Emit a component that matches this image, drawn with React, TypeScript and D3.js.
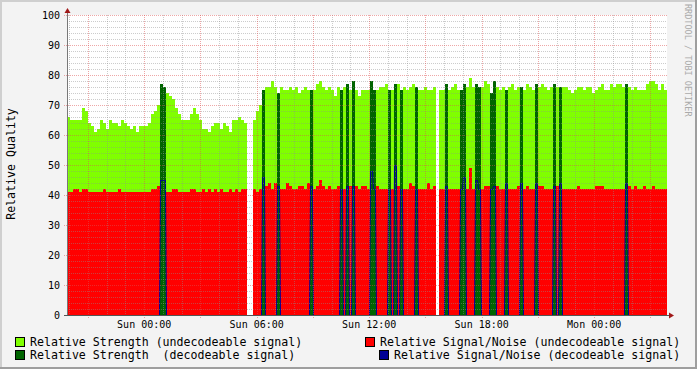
import React from 'react';
import * as d3 from 'd3';

// one value per 9.6 min bin (200 bins, Sat 19:53 -> Mon 03:53), null = no data / decodeable bin
const strengthUndec: (number | null)[] = [
  66, 65, 65, 65, 65, 69, 68, 64, 63, 61, 62, 65, 64, 62, 65, 64, 64, 63, 65, 64,
  63, 62, 63, 61, 63, 63, 63, 64, 67, 68, 70, null, null, 74, 73, 72, 69, 67, 65, 65,
  65, 67, 69, 67, 65, 62, 62, 61, 63, 64, 64, 62, 64, 63, 61, 65, 65, 66, 65, 64,
  null, null, 65, 68, 70, null, 76, 76, 78, 76, null, 76, 75, 75, 76, 75, 76, 74, 75, 76,
  75, null, 75, 77, 78, 76, 75, 76, 75, 73, 76, null, 76, null, 75, null, 75, 73, 75, 75,
  75, null, null, 75, 76, 76, 77, null, 75, null, 77, null, 76, 75, 76, 77, null, 75, 75, 76,
  75, 75, 76, null, 75, 75, null, 75, 76, 77, 75, null, null, 76, 79, 76, null, null, 76, 78,
  77, null, null, 76, 75, 76, null, 76, 77, 75, 76, null, 75, 77, 76, 75, null, 76, 77, 76,
  75, 76, null, 76, null, 76, 76, 75, 74, 75, 76, 76, 75, 76, 76, 74, 75, 76, 77, 75,
  75, 77, 76, 77, 77, 76, null, 76, 75, 76, 75, 75, 75, 77, 78, 78, 77, 75, 77, 75,
];

const snrUndec: (number | null)[] = [
  41, 41, 42, 42, 41, 42, 42, 41, 41, 41, 41, 41, 42, 41, 41, 41, 41, 42, 41, 41,
  41, 41, 41, 41, 41, 41, 41, 41, 42, 42, 43, null, null, 41, 41, 42, 42, 41, 41, 41,
  41, 42, 42, 41, 41, 42, 41, 42, 41, 42, 41, 42, 41, 41, 42, 41, 42, 41, 42, 42,
  null, null, 42, 41, 42, null, 43, 44, 42, 44, null, 42, 42, 44, 43, 42, 42, 43, 43, 42,
  44, null, 42, 43, 45, 43, 42, 43, 42, 42, 43, null, 42, null, 43, null, 43, 42, 43, 43,
  42, null, null, 43, 42, 42, 42, null, 42, null, 43, null, 42, 42, 44, 43, null, 42, 42, 42,
  44, 42, 43, null, 42, 42, null, 42, 42, 42, 42, null, null, 42, 49, 42, null, null, 42, 43,
  43, null, null, 43, 42, 42, null, 42, 42, 42, 43, null, 42, 43, 42, 42, null, 43, 43, 42,
  42, 42, null, 43, null, 42, 42, 42, 42, 42, 43, 42, 42, 42, 42, 42, 43, 43, 43, 42,
  42, 42, 42, 42, 42, 42, null, 43, 42, 43, 42, 42, 43, 42, 42, 43, 42, 42, 42, 42,
];

// bins where the signal was decodeable
const decIndex = [31, 32, 65, 70, 81, 91, 93, 95, 101, 102, 107, 109, 111, 116, 126, 131, 132, 136, 137, 141, 142, 146, 151, 156, 162, 164, 186];
const decStrength = [77, 76, 75, 74, 75, 75, 77, 78, 78, 75, 75, 77, 75, 76, 77, 75, 77, 77, 76, 74, 78, 75, 76, 77, 77, 76, 77];
const decSnr = [45, 45, 46, 43, 43, 42, 43, 43, 48, 42, 42, 50, 42, 42, 43, 42, 46, 45, 42, 42, 43, 44, 44, 44, 43, 44, 44];

const yTicks = [0, 10, 20, 30, 40, 50, 60, 70, 80, 90, 100];
const legendLabels = [
  'Relative Strength (undecodeable signal)',
  'Relative Signal/Noise (undecodeable signal)',
  'Relative Strength  (decodeable signal)',
  'Relative Signal/Noise (decodeable signal)',
];
const legendColors = ['#80FF00', '#FF0000', '#006400', '#000096'];

const W = 697;
const H = 369;
const FONT = '"DejaVu Sans Mono", monospace';

const App = () => {
  const N = strengthUndec.length;
  const start = new Date(2009, 0, 3, 19, 53);
  const end = new Date(2009, 0, 5, 3, 53);

  const x = d3.scaleLinear().domain([0, N]).range([67, 667]);
  const t = d3.scaleTime().domain([start, end]).range([67, 667]);
  const y = d3.scaleLinear().domain([0, 100]).range([315, 15]);

  const minorHours = d3.timeHour.every(1)!.range(start, end);
  const majorHours = d3.timeHour.every(3)!.range(start, end);
  const labelHours = d3.timeHour.every(6)!.range(start, end);
  const fmt = d3.timeFormat('%a %H:%M');

  // snr of decodeable bins as a full series (0 elsewhere) for the blue line
  const snrDec = new Array(N).fill(0);
  decIndex.forEach((i, k) => { snrDec[i] = decSnr[k]; });
  const pts: [number, number][] = [];
  snrDec.forEach((v, i) => {
    pts.push([x(i) + 0.5, y(v) + 0.5]);
    pts.push([x(i + 1) - 0.5, y(v) + 0.5]);
  });
  const blueLine = d3.line()(pts) || '';

  const minorY = d3.range(2, 100, 2).filter(v => v % 10 !== 0);
  const majorY = d3.range(10, 101, 10);

  const minorGrid = 'rgba(143,143,143,0.45)';
  const majorGrid = 'rgba(222,80,80,0.5)';

  return (
    <svg width={W} height={H} style={{ position: 'absolute', left: 0, top: 0 }} fontFamily={FONT}>
      <rect x={0} y={0} width={W} height={H} fill="#f3f3f3" />
      <line x1={0} y1={1} x2={W} y2={1} stroke="#cfcfcf" strokeWidth={2} />
      <line x1={1} y1={0} x2={1} y2={H} stroke="#cfcfcf" strokeWidth={2} />
      <line x1={0} y1={H - 1} x2={W} y2={H - 1} stroke="#9e9e9e" strokeWidth={2} />
      <line x1={W - 1} y1={0} x2={W - 1} y2={H} stroke="#9e9e9e" strokeWidth={2} />

      <rect x={67} y={15} width={600} height={300} fill="#ffffff" />

      <g shapeRendering="crispEdges">
        {strengthUndec.map((v, i) => v == null ? null : (
          <rect key={'g' + i} x={x(i)} y={y(v)} width={x(i + 1) - x(i)} height={y(0) - y(v)} fill="#80FF00" />
        ))}
        {snrUndec.map((v, i) => v == null ? null : (
          <rect key={'r' + i} x={x(i)} y={y(v)} width={x(i + 1) - x(i)} height={y(0) - y(v)} fill="#FF0000" />
        ))}
        {decIndex.map((i, k) => (
          <rect key={'d' + i} x={x(i)} y={y(decStrength[k])} width={x(i + 1) - x(i)} height={y(0) - y(decStrength[k])} fill="#006400" />
        ))}
      </g>
      <path d={blueLine} fill="none" stroke="#000096" strokeWidth={1} />

      {/* grid */}
      <g strokeWidth={1} strokeDasharray="1,1" shapeRendering="crispEdges">
        {minorY.map(v => (
          <line key={'my' + v} x1={67} x2={667} y1={y(v) + 0.5} y2={y(v) + 0.5} stroke={minorGrid} />
        ))}
        {minorHours.filter(d => d.getHours() % 3 !== 0).map(d => (
          <line key={'mx' + +d} x1={t(d) + 0.5} x2={t(d) + 0.5} y1={15} y2={315} stroke={minorGrid} />
        ))}
        {majorY.map(v => (
          <line key={'My' + v} x1={64} x2={667} y1={y(v) + 0.5} y2={y(v) + 0.5} stroke={majorGrid} />
        ))}
        {majorHours.map(d => (
          <line key={'Mx' + +d} x1={t(d) + 0.5} x2={t(d) + 0.5} y1={15} y2={318} stroke={majorGrid} />
        ))}
      </g>

      {/* axes */}
      <g shapeRendering="crispEdges">
        <line x1={67.5} x2={67.5} y1={12} y2={316} stroke="#777" />
        <line x1={64} x2={670} y1={315.5} y2={315.5} stroke="#555" />
      </g>
      <path d="M67.5,8 L64.5,13 L70.5,13 Z" fill="#a01818" />
      <path d="M674,315.5 L669,312.5 L669,318.5 Z" fill="#a01818" />

      {yTicks.map(v => (
        <text key={'yl' + v} x={60} y={y(v)} dy="0.35em" textAnchor="end" fontSize={10} fill="#000">{v}</text>
      ))}
      {labelHours.map(d => (
        <text key={'xl' + +d} x={t(d)} y={328} textAnchor="middle" fontSize={10} fill="#000">{fmt(d)}</text>
      ))}

      <text transform="translate(15,164) rotate(-90)" textAnchor="middle" fontSize={11.6} fill="#000">Relative Quality</text>
      <text transform="translate(685,4) rotate(90)" fontSize={8.5} fill="#aaaaaa">RRDTOOL / TOBI OETIKER</text>

      {/* legend */}
      {legendLabels.map((label, k) => {
        const row = Math.floor(k / 2);
        const boxX = k === 0 || k === 2 ? 15 : k === 1 ? 365 : 379;
        const by = row === 0 ? 337 : 350;
        return (
          <g key={'lg' + k}>
            <rect x={boxX + 0.5} y={by + 0.5} width={9} height={9} fill={legendColors[k]} stroke="#000" shapeRendering="crispEdges" />
            <text x={boxX + 15} y={by + 8.5} fontSize={11.6} fill="#000" style={{ whiteSpace: 'pre' }}>{label}</text>
          </g>
        );
      })}
    </svg>
  );
};

export default App;
